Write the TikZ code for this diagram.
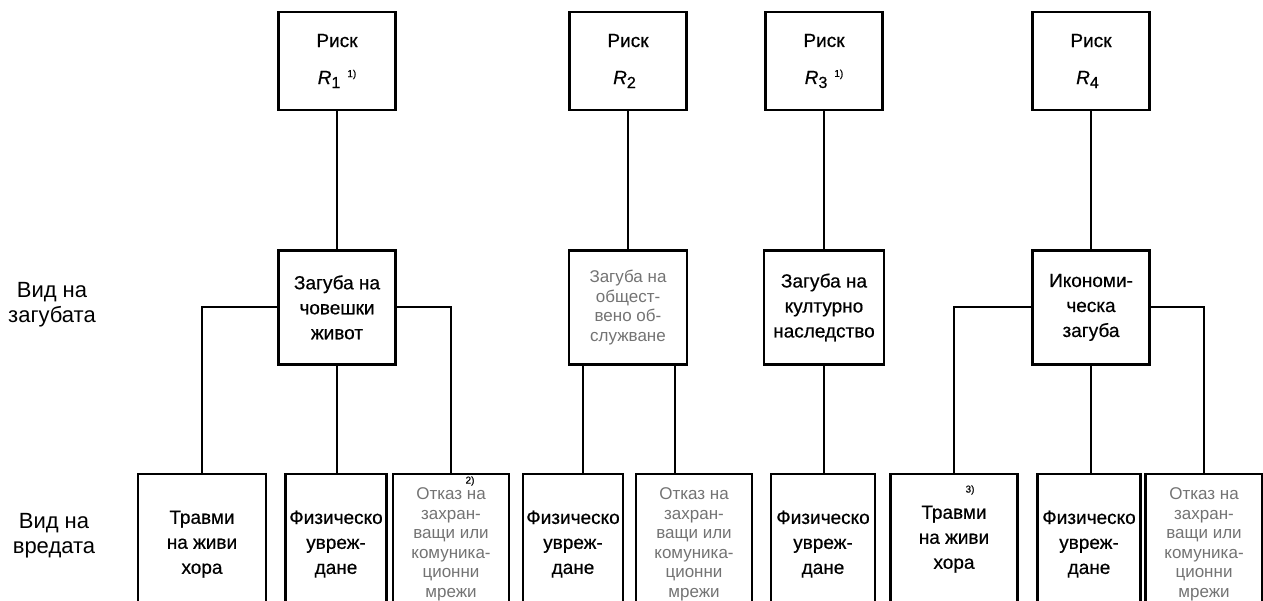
\documentclass[tikz,border=0pt]{standalone}
\usepackage{fontspec}
\setmainfont{Liberation Sans}[RawFeature={embolden=0.5}]
\newfontfamily\thinfont{Liberation Sans}
\usetikzlibrary{positioning}

\newcommand{\risksym}[2]{\textit{R}\raisebox{-4pt}{\fontsize{16}{16}\selectfont #1}\hspace{7pt}\raisebox{7pt}{\fontsize{10}{10}\selectfont #2}}

\begin{document}
\begin{tikzpicture}[
  x=1pt, y=-1pt,
  every node/.style={font=\fontsize{19}{25}\selectfont},
  riskbox/.style={rectangle, draw, line width=2.4pt, align=center, minimum width=117pt, minimum height=98pt, inner sep=2pt},
  lossbox/.style={rectangle, draw, line width=2.4pt, align=center, minimum width=117pt, minimum height=114pt, inner sep=2pt},
  harmbox/.style={rectangle, draw, line width=2.4pt, align=center, anchor=north, minimum height=140pt, inner sep=1pt},
  faint/.style={text=black!55, font=\thinfont\fontsize{17}{19.5}\selectfont},
  fnote/.style={font=\fontsize{10}{12}\selectfont, inner sep=0pt},
  rowlabel/.style={align=center, font=\thinfont\fontsize{22}{25}\selectfont},
  line/.style={line width=2pt}
]

\useasboundingbox (0,0) rectangle (1263,601);
\clip (0,0) rectangle (1263,601);

\node[riskbox] (risk1) at (337,61) {Риск\\[12pt]\risksym{1}{1)}};
\node[riskbox] (risk2) at (628,61) {Риск\\[12pt]\risksym{2}{}};
\node[riskbox] (risk3) at (824,61) {Риск\\[12pt]\risksym{3}{1)}};
\node[riskbox] (risk4) at (1091,61) {Риск\\[12pt]\risksym{4}{}};

\node[lossbox, below=138pt of risk1] (loss1) {Загуба на\\човешки\\живот};
\node[lossbox, faint, minimum width=118pt, below=138pt of risk2] (loss2)
{Загуба на\\общест-\\вено об-\\служване};
\node[lossbox, minimum width=120pt, below=138pt of risk3] (loss3)
{Загуба на\\културно\\наследство};
\node[lossbox, below=138pt of risk4] (loss4) {Икономи-\\ческа\\загуба};

\node[harmbox, minimum width=128pt] (harm1) at (202,473) {Травми\\на живи\\хора};
\node[harmbox, minimum width=101pt] (harm2) at (336,473) {Физическо\\увреж-\\дане};
\node[harmbox, faint, minimum width=116pt] (harm3) at (451,473)
{Отказ на\\захран-\\ващи или\\комуника-\\ционни\\мрежи};
\node[harmbox, minimum width=100pt] (harm4) at (573,473) {Физическо\\увреж-\\дане};
\node[harmbox, faint, minimum width=116pt] (harm5) at (694,473)
{Отказ на\\захран-\\ващи или\\комуника-\\ционни\\мрежи};
\node[harmbox, minimum width=104pt] (harm6) at (823,473) {Физическо\\увреж-\\дане};
\node[harmbox, minimum width=127pt, minimum height=130pt] (harm7) at (954,473) {Травми\\на живи\\хора};
\node[harmbox, minimum width=103pt] (harm8) at (1089,473) {Физическо\\увреж-\\дане};
\node[harmbox, faint, minimum width=117pt] (harm9) at (1204,473)
{Отказ на\\захран-\\ващи или\\комуника-\\ционни\\мрежи};

\node[fnote] (fn2) at (470,481) {2)};
\node[fnote] (fn3) at (970,490) {3)};

\node[rowlabel] (losskind) at (52,305) {Вид на\\загубата};
\node[rowlabel] (harmkind) at (54,536) {Вид на\\вредата};


\draw[line] (risk1) -- (loss1);
\draw[line] (risk2) -- (loss2);
\draw[line] (risk3) -- (loss3);
\draw[line] (risk4) -- (loss4);

\draw[line] (loss1.west) -| (harm1.north);
\draw[line] (loss1.south) -- (loss1.south |- harm2.north);
\draw[line] (loss1.east) -| (harm3.north);

\draw[line] ([xshift=-45pt]loss2.south) -- ([xshift=-45pt]loss2.south |- harm4.north);
\draw[line] ([xshift=47pt]loss2.south) -- ([xshift=47pt]loss2.south |- harm5.north);

\draw[line] (loss3.south) -- (loss3.south |- harm6.north);

\draw[line] (loss4.west) -| (harm7.north);
\draw[line] (loss4.south) -- (loss4.south |- harm8.north);
\draw[line] (loss4.east) -| (harm9.north);


\end{tikzpicture}
\end{document}
